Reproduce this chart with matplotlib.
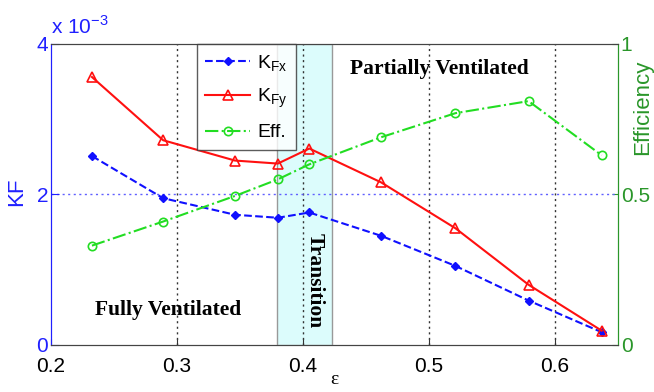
import matplotlib
matplotlib.use("Agg")
import matplotlib.pyplot as plt

eps = [0.2325, 0.289, 0.346, 0.380, 0.405, 0.462, 0.521, 0.579, 0.637]
kfx = [2.51, 1.95, 1.73, 1.69, 1.76, 1.45, 1.05, 0.59, 0.17]
kfy = [3.56, 2.72, 2.45, 2.41, 2.61, 2.16, 1.55, 0.80, 0.19]
eff = [0.33, 0.41, 0.495, 0.55, 0.60, 0.69, 0.77, 0.81, 0.63]
trans = [0.379, 0.423]

plt.rcParams['font.family'] = ['Liberation Sans', 'DejaVu Sans']
fig = plt.figure(figsize=(6.54, 3.92), dpi=100)
ax = fig.add_axes([0.078, 0.12, 0.867, 0.768])
ax2 = ax.twinx()
ax.set_zorder(2); ax.patch.set_visible(False)

blue = '#2020ff'
green = '#2a962a'

ax.axvspan(trans[0], trans[1], facecolor='#dcfcfc', edgecolor='#999999', lw=1, zorder=0)
for xv in [0.3, 0.4, 0.5, 0.6]:
    ax.axvline(xv, color='#333333', ls=(0, (1.5, 2.5)), lw=1, zorder=0.5)
ax.axhline(2, color='#6060ff', ls=(0, (1.5, 2.5)), lw=1, zorder=0.5)

l1, = ax.plot(eps, kfx, color='#1010ff', ls='--', lw=1.5, marker='D', ms=4,
              mfc='#1010ff', label='$\\mathregular{K_{Fx}}$')
l2, = ax.plot(eps, kfy, color='#ff1010', ls='-', lw=1.5, marker='^', ms=7,
              mfc='none', mew=1.2, label='$\\mathregular{K_{Fy}}$')
l3, = ax.plot(eps, [e * 4 for e in eff], color='#22dd22', ls='-.', lw=1.5,
              marker='o', ms=6, mfc='none', mew=1.2, label='Eff.')

ax.set_xlim(0.2, 0.65)
ax.set_ylim(0, 4)
ax2.set_ylim(0, 1)
ax.set_xticks([0.2, 0.3, 0.4, 0.5, 0.6])
ax.set_yticks([0, 2, 4])
ax2.set_yticks([0, 0.5, 1])
ax2.set_yticklabels(['0', '0.5', '1'])
ax.set_yticklabels(['0', '2', '4'])

ax.tick_params(axis='x', direction='in', labelsize=15, length=4, color='#333333', pad=9)
ax.tick_params(axis='y', direction='in', labelsize=15, colors=blue, length=6, pad=2)
ax2.tick_params(axis='y', direction='in', labelsize=15, colors=green, length=4, pad=2)

for a in (ax, ax2):
    a.spines['top'].set_color('#444444')
    a.spines['bottom'].set_color('#444444')
    a.spines['left'].set_color(blue)
    a.spines['right'].set_color(green)

ax.set_xlabel('ε', fontsize=14, family=['Liberation Serif', 'DejaVu Serif'])
ax.xaxis.set_label_coords(0.5, -0.085)
ax.set_ylabel('KF', fontsize=16, color=blue)
ax.yaxis.set_label_coords(-0.042, 0.51)
ax2.set_ylabel('Efficiency', fontsize=16, color=green)
ax2.yaxis.set_label_coords(1.024, 0.79)

ax.text(0.0, 1.02, 'x 10$^{\\mathregular{-3}}$', transform=ax.transAxes, fontsize=15,
        color=blue, ha='left', va='bottom')

serif = ['Liberation Serif', 'DejaVu Serif']
ax.text(0.508, 3.67, 'Partially Ventilated', fontsize=15.5, weight='bold', family=serif, ha='center', va='center')
ax.text(0.293, 0.47, 'Fully Ventilated', fontsize=15.5, weight='bold', family=serif, ha='center', va='center')
ax.text(0.4095, 0.85, 'Transition', fontsize=15.5, weight='bold', family=serif, rotation=-90,
        ha='center', va='center')

leg = ax.legend(handles=[l1, l2, l3], loc='upper left', bbox_to_anchor=(0.257, 1.0),
                borderaxespad=0.0,
                fontsize=14, frameon=True, fancybox=False, edgecolor='#333333',
                handlelength=2.3, borderpad=0.45, labelspacing=0.72, handletextpad=0.35)
leg.get_frame().set_linewidth(1)

fig.savefig('out.png', dpi=100)
